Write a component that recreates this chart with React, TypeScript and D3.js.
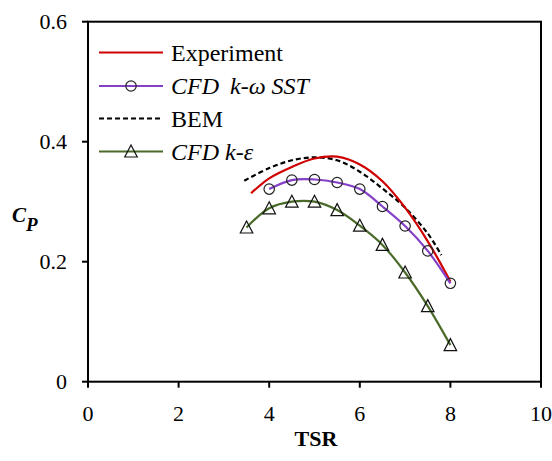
import React from "react";
import * as d3 from "d3";

const expTSR = [3.6, 4, 4.5, 5, 5.5, 6, 6.5, 7, 7.5, 8];
const expCp = [0.314, 0.339, 0.358, 0.372, 0.375, 0.362, 0.334, 0.29, 0.234, 0.167];

const sstTSR = [4, 4.5, 5, 5.5, 6, 6.5, 7, 7.5, 8];
const sstCp = [0.321, 0.336, 0.337, 0.332, 0.321, 0.292, 0.2595, 0.218, 0.164];

const bemTSR = [3.45, 4, 4.5, 5, 5.5, 6, 6.5, 7, 7.5, 7.8];
const bemCp = [0.335, 0.356, 0.369, 0.374, 0.369, 0.35, 0.322, 0.29, 0.247, 0.211];

const keTSR = [3.5, 4, 4.5, 5, 5.5, 6, 6.5, 7, 7.5, 8];
const keCp = [0.257, 0.289, 0.3, 0.3, 0.286, 0.26, 0.228, 0.182, 0.126, 0.061];

const xTicks = [0, 2, 4, 6, 8, 10];
const yTicks = [0, 0.2, 0.4, 0.6];
const yTickLabels = ["0", "0.2", "0.4", "0.6"];

const RED = "#d00000";
const PURPLE = "#8540c8";
const GREEN = "#4a6a2a";

const x = d3.scaleLinear().domain([0, 10]).range([88, 541]);
const y = d3.scaleLinear().domain([0, 0.6]).range([381.7, 21.7]);

const line = d3
  .line<[number, number]>()
  .x((d) => x(d[0]))
  .y((d) => y(d[1]))
  .curve(d3.curveCatmullRom.alpha(0.5));

const zip = (a: number[], b: number[]) => a.map((v, i) => [v, b[i]] as [number, number]);

const tri = (cx: number, cy: number) => {
  const h = 11;
  const w = 12.5;
  return `M${cx},${cy - h / 2 - 1}L${cx + w / 2},${cy + h / 2}L${cx - w / 2},${cy + h / 2}Z`;
};

const S = { fontFamily: "Liberation Serif" };

export default function App() {
  const legendRows = [52.5, 86, 118.5, 151.5];
  const lx0 = 99;
  const lx1 = 163;
  const lmid = (lx0 + lx1) / 2;
  const tx = 171;
  return (
    <svg width={552} height={461} style={{ position: "absolute", left: 0, top: 0 }}>
      <style>{`text, tspan { font-family: "Liberation Serif", serif; }`}</style>
      <rect
        x={x(0)}
        y={y(0.6)}
        width={x(10) - x(0)}
        height={y(0) - y(0.6)}
        fill="none"
        stroke="#000"
        strokeWidth={2}
      />
      {yTicks.map((t, i) => (
        <g key={"y" + t}>
          <line x1={x(0) - 6} x2={x(0)} y1={y(t)} y2={y(t)} stroke="#000" strokeWidth={2} />
          <text x={67} y={y(t) + 7.5} textAnchor="end" fontSize={22} style={S}>
            {yTickLabels[i]}
          </text>
        </g>
      ))}
      {xTicks.map((t) => (
        <g key={"x" + t}>
          <line x1={x(t)} x2={x(t)} y1={y(0)} y2={y(0) + 6} stroke="#000" strokeWidth={2} />
          <text x={x(t)} y={421} textAnchor="middle" fontSize={22} style={S}>
            {String(t)}
          </text>
        </g>
      ))}
      <text x={316} y={446} textAnchor="middle" fontSize={22} fontWeight="bold" style={S}>
        TSR
      </text>
      <text x={12} y={222} fontSize={21} fontWeight="bold" fontStyle="italic" style={S}>
        C
        <tspan fontSize={19} dy={9}>
          P
        </tspan>
      </text>

      <path d={line(zip(bemTSR, bemCp)) || ""} fill="none" stroke="#000" strokeWidth={2.2} strokeDasharray="5,3" />
      <path d={line(zip(expTSR, expCp)) || ""} fill="none" stroke={RED} strokeWidth={2.2} />
      <path d={line(zip(sstTSR, sstCp)) || ""} fill="none" stroke={PURPLE} strokeWidth={2.2} />
      <path d={line(zip(keTSR, keCp)) || ""} fill="none" stroke={GREEN} strokeWidth={2.2} />
      {sstTSR.map((t, i) => (
        <circle key={"c" + i} cx={x(t)} cy={y(sstCp[i])} r={5.2} fill="none" stroke="#222" strokeWidth={1.2} />
      ))}
      {keTSR.map((t, i) => (
        <path key={"t" + i} d={tri(x(t), y(keCp[i]))} fill="none" stroke="#111" strokeWidth={1.2} />
      ))}

      <line x1={lx0} x2={lx1} y1={legendRows[0]} y2={legendRows[0]} stroke={RED} strokeWidth={2.2} />
      <text x={tx} y={legendRows[0] + 8} fontSize={24} style={S}>
        Experiment
      </text>
      <line x1={lx0} x2={lx1} y1={legendRows[1]} y2={legendRows[1]} stroke={PURPLE} strokeWidth={2.2} />
      <circle cx={lmid} cy={legendRows[1]} r={5.2} fill="none" stroke="#222" strokeWidth={1.2} />
      <text x={tx} y={legendRows[1] + 8} fontSize={24} fontStyle="italic" style={S}>
        CFD
        <tspan dx={11}>k-ω</tspan>
        <tspan dx={6}>SST</tspan>
      </text>
      <line
        x1={lx0}
        x2={lx1}
        y1={legendRows[2]}
        y2={legendRows[2]}
        stroke="#000"
        strokeWidth={2.2}
        strokeDasharray="5,3"
      />
      <text x={tx} y={legendRows[2] + 8} fontSize={24} style={S}>
        BEM
      </text>
      <line x1={lx0} x2={lx1} y1={legendRows[3]} y2={legendRows[3]} stroke={GREEN} strokeWidth={2.2} />
      <path d={tri(lmid, legendRows[3])} fill="none" stroke="#111" strokeWidth={1.2} />
      <text x={tx} y={legendRows[3] + 8} fontSize={24} fontStyle="italic" style={S}>
        CFD
        <tspan dx={6}>k-ε</tspan>
      </text>
    </svg>
  );
}
